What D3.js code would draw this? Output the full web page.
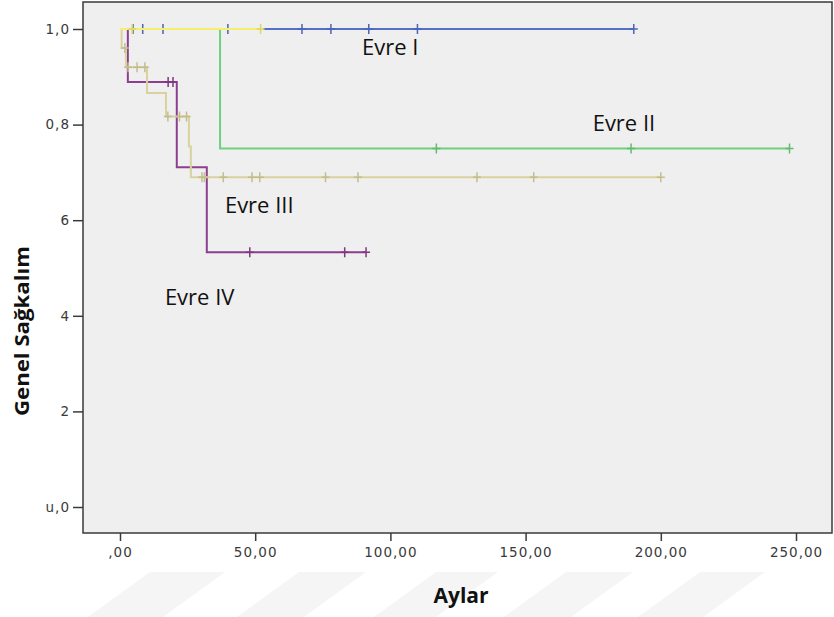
<!DOCTYPE html>
<html>
<head>
<meta charset="utf-8">
<script src="https://cdn.jsdelivr.net/npm/d3@7/dist/d3.min.js"></script>
<style>
  html, body { margin: 0; padding: 0; background: #ffffff; }
  svg { display: block; }
</style>
</head>
<body>
<svg id="chart" width="834" height="617"></svg>
<script>
// Kaplan-Meier survival by stage (Evre)
const timeTicks = [0, 50, 100, 150, 200, 250];
const timeTickText = [",00", "50,00", "100,00", "150,00", "200,00", "250,00"];
const survTicks = [1, 0.8, 0.6, 0.4, 0.2, 0];
const survTickText = ["1,0", "0,8", "6", "4", "2", "u,0"];

// step points: [time, survival]; censored: times of censor marks
const evreISteps = [[0, 1], [190, 1]];
const evreICensored = [4.8, 8.4, 15.9, 39.9, 67.3, 78, 92, 110, 190];

const evreIISteps = [[0, 1], [37, 0.75], [247.6, 0.75]];
const evreIICensored = [117, 189, 247.6];

const evreIIISteps = [[0, 1], [0.6, 0.96], [2.2, 0.92], [10, 0.866], [17, 0.817], [25.5, 0.754], [26.2, 0.69], [200, 0.69]];
const evreIIICensored = [1.8, 3.0, 6.3, 9.2, 17.7, 22, 24.6, 30.3, 31.2, 38.2, 48.8, 51.7, 76, 88, 132, 153, 200];

const evreIVSteps = [[0, 1], [2.9, 0.889], [21, 0.711], [32.1, 0.533], [91, 0.533]];
const evreIVCensored = [17.8, 19.6, 48, 83.1, 91];

const otherSteps = [[0, 1], [53, 1]];
const otherCensored = [4.5, 52];

const groups = [
  { name: "Evre IV", steps: evreIVSteps, censored: evreIVCensored, color: "#8d3f8f" },
  { name: "Evre III", steps: evreIIISteps, censored: evreIIICensored, color: "#d9d29e" },
  { name: "Evre II", steps: evreIISteps, censored: evreIICensored, color: "#6fcf7e" },
  { name: "Evre I", steps: evreISteps, censored: evreICensored, color: "#5570c8" },
  { name: "", steps: otherSteps, censored: otherCensored, color: "#f6ef6e" }
];

const labels = [
  { text: "Evre I", t: 89.5, s: 0.946 },
  { text: "Evre II", t: 174.8, s: 0.787 },
  { text: "Evre III", t: 38.8, s: 0.615 },
  { text: "Evre IV", t: 16.6, s: 0.423 }
];

const svg = d3.select("#chart");
const frame = { left: 83, right: 832, top: 2, bottom: 533 };

// faint diagonal bands along the bottom edge
const bands = [[150, 225], [299, 366], [436, 498], [566, 633], [700, 765]];
svg.append("g").selectAll("path").data(bands).join("path")
  .attr("d", d => `M${d[0]},572 L${d[1]},572 L${d[1] - 62},617 L${d[0] - 62},617 Z`)
  .attr("fill", "#f5f5f5");

const x = d3.scaleLinear().domain([0, 250]).range([120, 796]);
const y = d3.scaleLinear().domain([0, 1]).range([507, 29]);

svg.append("rect")
  .attr("x", frame.left).attr("y", frame.top)
  .attr("width", frame.right - frame.left).attr("height", frame.bottom - frame.top)
  .attr("fill", "#efefef").attr("stroke", "#3a3a3a").attr("stroke-width", 1.5);

// axes
const tickFont = "DejaVu Sans, sans-serif";
const xAxis = d3.axisBottom(x).tickValues(timeTicks)
  .tickFormat((d, i) => timeTickText[i]).tickSize(8).tickPadding(6);
const gx = svg.append("g").attr("transform", `translate(0,${frame.bottom})`).call(xAxis);
gx.select(".domain").remove();
gx.selectAll("line").attr("stroke", "#3a3a3a").attr("stroke-width", 1.5);
gx.selectAll("text").attr("font-family", tickFont)
  .attr("font-size", 13.5).attr("letter-spacing", 1).attr("fill", "#3a3a3a");

const yAxis = d3.axisLeft(y).tickValues(survTicks)
  .tickFormat((d, i) => survTickText[i]).tickSize(10).tickPadding(3);
const gy = svg.append("g").attr("transform", `translate(${frame.left},0)`).call(yAxis);
gy.select(".domain").remove();
gy.selectAll("line").attr("stroke", "#3a3a3a").attr("stroke-width", 1.5);
gy.selectAll("text").attr("font-family", tickFont)
  .attr("font-size", 13.5).attr("letter-spacing", 1).attr("fill", "#3a3a3a");

// survival at time t from a step list
function survAt(steps, t) {
  let s = steps[0][1];
  for (const p of steps) { if (p[0] <= t) s = p[1]; }
  return s;
}

const line = d3.line().x(d => x(d[0])).y(d => y(d[1])).curve(d3.curveStepAfter);

const plot = svg.append("g");
groups.forEach(g => {
  plot.append("path").datum(g.steps)
    .attr("d", line).attr("fill", "none")
    .attr("stroke", g.color).attr("stroke-width", 2);
  plot.append("g").selectAll("path").data(g.censored).join("path")
    .attr("d", t => {
      const cx = x(t), cy = y(survAt(g.steps, t));
      return `M${cx - 4},${cy}H${cx + 4}M${cx},${cy - 5}V${cy + 5}`;
    })
    .attr("stroke", d3.color(g.color).darker(0.3)).attr("stroke-width", 1.5).attr("fill", "none");
});

svg.append("g").selectAll("text").data(labels).join("text")
  .attr("x", d => x(d.t)).attr("y", d => y(d.s))
  .attr("font-family", "Open Sans, sans-serif").attr("font-size", 22)
  .attr("fill", "#111").text(d => d.text);

svg.append("text")
  .attr("x", 461).attr("y", 603).attr("text-anchor", "middle")
  .attr("font-family", "Open Sans, sans-serif").attr("font-weight", "bold")
  .attr("font-size", 21).attr("fill", "#111").text("Aylar");

svg.append("text")
  .attr("transform", "translate(29,331) rotate(-90)").attr("text-anchor", "middle")
  .attr("font-family", "Open Sans, sans-serif").attr("font-weight", "bold")
  .attr("font-size", 20).attr("textLength", 170).attr("lengthAdjust", "spacingAndGlyphs")
  .attr("fill", "#111").text("Genel Sağkalım");
</script>
</body>
</html>
